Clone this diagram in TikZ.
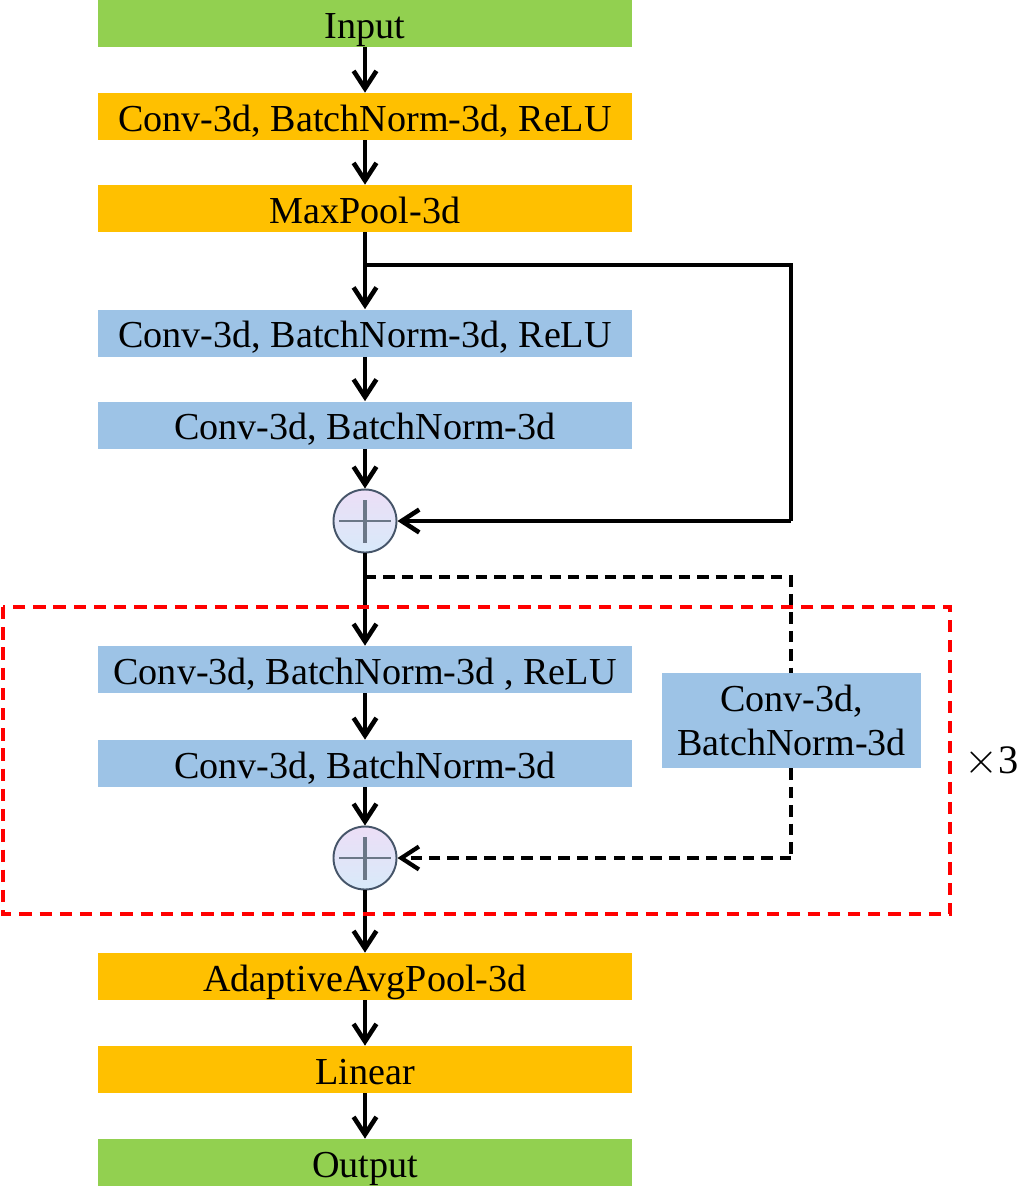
\documentclass[tikz,border=0pt]{standalone}
\usepackage{fontspec}
\setmainfont{Liberation Serif}
\usetikzlibrary{positioning,arrows.meta,calc,shapes}

\definecolor{ingreen}{RGB}{146,208,80}
\definecolor{layorange}{RGB}{255,192,0}
\definecolor{resblue}{RGB}{157,195,230}
\definecolor{addedge}{RGB}{70,85,105}
\definecolor{addpink}{RGB}{236,222,246}
\definecolor{addblue}{RGB}{216,234,250}

\begin{document}
\begin{tikzpicture}[
  layer/.style={rectangle,fill=#1,minimum width=10.68cm,minimum height=0.94cm,inner sep=0pt,text height=16.5pt,text depth=0pt,font=\fontsize{21.7}{26}\selectfont},
  sidebox/.style={rectangle,fill=resblue,minimum width=5.18cm,minimum height=1.9cm,inner sep=0pt,align=center,font=\fontsize{21.7}{25.5}\selectfont},
  addnode/.style={circle,draw=addedge,line width=1.1pt,minimum size=1.26cm,inner sep=0pt,shading angle=135,top color=addpink,bottom color=addblue},
  plusbar/.style={draw=addedge!80,line width=1.4pt},
  flow/.style={-{Straight Barb[length=10pt,width=13pt]},line width=2.6pt},
  skip/.style={line width=2.6pt},
  skipdash/.style={line width=2.4pt,dash pattern=on 6.5pt off 4pt},
  repeatbox/.style={draw=red,line width=1.9pt,dash pattern=on 7pt off 4.5pt},
]
\useasboundingbox (0,0) rectangle (20.4,-23.72);

% ==== STEM ====
\node[layer=ingreen] (inp) at (7.30,-0.47) {Input};
\node[layer=layorange] (conv1) at (7.30,-2.33) {Conv-3d, BatchNorm-3d, ReLU};
\node[layer=layorange] (pool1) at (7.30,-4.17) {MaxPool-3d};

% ==== RESIDUAL BLOCK 1 ====
\node[layer=resblue] (c2) at (7.30,-6.66) {Conv-3d, BatchNorm-3d, ReLU};
\node[layer=resblue] (c3) at (7.30,-8.50) {Conv-3d, BatchNorm-3d};
\node[addnode] (add1) at (7.30,-10.42) {};

% ==== RESIDUAL BLOCK 2 (repeated) ====
\node[layer=resblue] (c4) at (7.30,-13.39) {Conv-3d, BatchNorm-3d , ReLU};
\node[layer=resblue] (c5) at (7.30,-15.27) {Conv-3d, BatchNorm-3d};
\node[addnode] (add2) at (7.30,-17.16) {};
\node[sidebox] (down) at (15.83,-14.41) {Conv-3d,\\BatchNorm-3d};

% ==== HEAD ====
\node[layer=layorange] (pool2) at (7.30,-19.53) {AdaptiveAvgPool-3d};
\node[layer=layorange] (lin) at (7.30,-21.39) {Linear};
\node[layer=ingreen] (outp) at (7.30,-23.25) {Output};

% plus signs
\foreach \a in {add1,add2} {
  \draw[plusbar] ([xshift=-0.52cm]\a.center) -- ([xshift=0.52cm]\a.center);
  \draw[plusbar,line width=1.8pt] ([yshift=-0.43cm]\a.center) -- ([yshift=0.43cm]\a.center);
}

% main flow
\draw[flow] (inp) -- (conv1);
\draw[flow] (conv1) -- (pool1);
\draw[flow] (pool1) -- (c2);
\draw[flow] (c2) -- (c3);
\draw[flow] (c3) -- (add1);
\draw[flow] (add1) -- (c4);
\draw[flow] (c4) -- (c5);
\draw[flow] (c5) -- (add2);
\draw[flow] (add2) -- (pool2);
\draw[flow] (pool2) -- (lin);
\draw[flow] (lin) -- (outp);

% identity shortcut
\coordinate (sk1) at (7.30,-5.30);
\coordinate (sk1r) at (15.82,-5.30);
\draw[skip] (sk1) -- (sk1r) -- (sk1r|-add1.east);
\draw[flow] (sk1r|-add1.east) -- (add1.east);

% projection shortcut
\coordinate (sk2) at (7.30,-11.54);
\coordinate (sk2r) at (15.82,-11.54);
\draw[skipdash] (sk2) -- (sk2r) -- (down.north-|sk2r);
\draw[skipdash] (down.south-|sk2r) -- (sk2r|-add2.east);
\draw[flow,line width=2.4pt,dash pattern=on 6.5pt off 4pt] (sk2r|-add2.east) -- (add2.east);

% repeat frame
\draw[repeatbox] (0.06,-12.14) rectangle (19.00,-18.28);
\node[font=\fontsize{23}{26}\selectfont,inner sep=0pt] (times) at (19.84,-15.24) {{\fontsize{27}{27}\selectfont$\times$}3};

\end{tikzpicture}
\end{document}
